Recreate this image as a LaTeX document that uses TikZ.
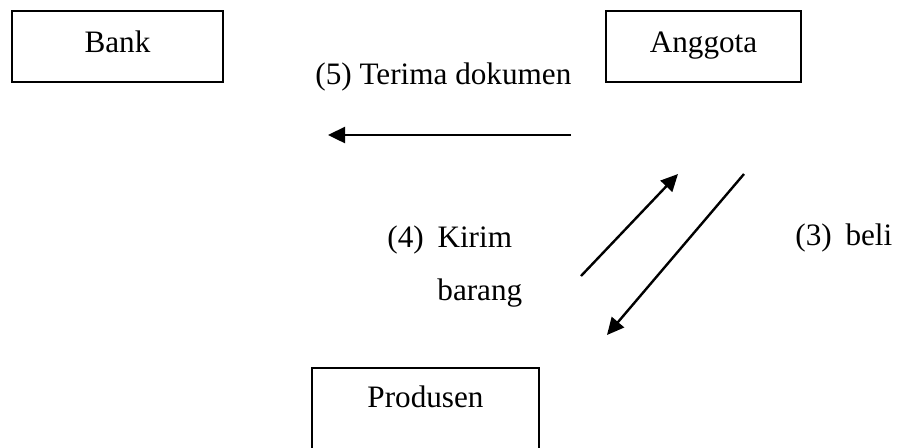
\documentclass[tikz,border=0pt]{standalone}
\usepackage{fontspec}
\setmainfont{Liberation Serif}
\usetikzlibrary{arrows.meta,positioning}
\tikzset{
	%Define standard arrow tip
	>={Triangle[length=8.5pt,width=8pt]},
	%Define style for boxes
	kotak/.style={
		rectangle,
		draw=black, line width=1.1pt,
		inner xsep=0pt, inner ysep=0pt,
		minimum height=35.5pt,
		text height=20.5pt,
		text depth=15pt},
	% Define arrow style
	panah/.style={
		->,
		line width=1.2pt},
	% Define style for labels
	teks/.style={
		anchor=base west,
		inner sep=0pt}
}

\begin{document}
\begin{tikzpicture}[x=0.5pt, y=-0.5pt, font=\fontsize{15.6}{18}\selectfont]

	\useasboundingbox (0,0) rectangle (902,447);

	\node[kotak, minimum width=105.5pt] (bank) at (117.5,46.5) {Bank};
	\node[kotak, minimum width=97.5pt] (anggota) at (703.5,46.5) {Anggota};
	\node[kotak, minimum width=113.5pt, minimum height=50pt, text height=19.5pt, text depth=30.5pt] (produsen) at (425.5,418) {Produsen};

	% ends of the arrows
	\coordinate (terimaA) at (571,135);
	\coordinate (terimaB) at (328,135);
	\coordinate (kirimA) at (581,276);
	\coordinate (kirimB) at (678,174);
	\coordinate (beliA) at (744,174);
	\coordinate (beliB) at (607,335);

	\draw[panah] (terimaA) -- (terimaB);
	\draw[panah] (kirimA) -- (kirimB);
	\draw[panah] (beliA) -- (beliB);

	\node[teks] (terima) at (315,84) {(5) Terima dokumen};
	\node[teks] (kirim) at (387,247) {(4)\hspace{0.44em}Kirim};
	\node[teks] (barang) at (437,300) {barang};
	\node[teks] (beli) at (795,245) {(3)\hspace{0.44em}beli};

\end{tikzpicture}
\end{document}
